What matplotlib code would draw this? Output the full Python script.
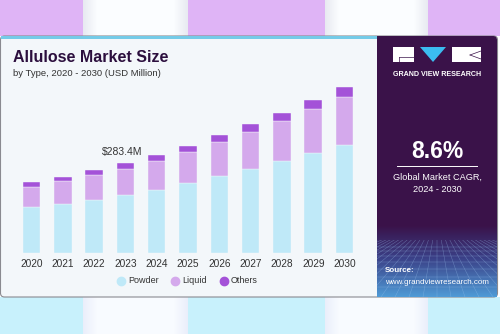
import numpy as np
import matplotlib
matplotlib.use("Agg")
import matplotlib.pyplot as plt
from matplotlib.patches import FancyBboxPatch, Rectangle, Polygon
from matplotlib.lines import Line2D

# ---- data ----
years = ["2020", "2021", "2022", "2023", "2024", "2025", "2026", "2027", "2028", "2029", "2030"]
powder = [144.9, 155.3, 167.8, 183.6, 200.3, 220.4, 241.9, 265.5, 290.7, 315.9, 342.0]
liquid = [64.9, 71.5, 77.8, 81.9, 90.4, 97.6, 108.6, 117.5, 126.9, 138.6, 151.2]
others = [14.8, 14.5, 15.7, 17.9, 18.9, 20.8, 21.1, 24.2, 25.2, 27.4, 29.6]
series_names = ["Powder", "Liquid", "Others"]
annot_label = "$283.4M"
annot_year = "2023"

C_POW = "#bfe9f8"
C_LIQ = "#d4a9ec"
C_OTH = "#a452d8"
DARK = "#2c0f3e"

W, H = 500, 334
fig = plt.figure(figsize=(W / 100, H / 100), dpi=100)
plt.rcParams['font.family'] = ['Liberation Sans', 'DejaVu Sans']

bg = fig.add_axes([0, 0, 1, 1])
bg.set_xlim(0, W)
bg.set_ylim(H, 0)
bg.axis("off")

def band(y0, y1, base, light, edge):
    img = np.zeros((1, W, 3))
    base = np.array(matplotlib.colors.to_rgb(base))
    light = np.array(matplotlib.colors.to_rgb(light))
    edge = np.array(matplotlib.colors.to_rgb(edge))
    for x in range(W):
        c = base
        for (a, b) in [(80, 190), (322, 430)]:
            if a <= x <= b:
                t = (x - a) / (b - a)
                d = min(t, 1 - t)
                if d > 0.02:
                    w = np.clip(d / 0.15, 0, 1)
                    c = light * w + edge * (1 - w)
        img[0, x] = c
    bg.imshow(img, extent=[0, W, y1, y0], aspect="auto", zorder=0)

band(0, 36, "#dfb4f6", "#fbfdff", "#e4e6ef")
band(297, H, "#c8f1fc", "#f8fbff", "#e8ecfa")

# card
card = FancyBboxPatch((0.5, 36), 497, 261, boxstyle="round,pad=0,rounding_size=4",
                      fc="#f3f7fa", ec="#8a8a90", lw=0.8, zorder=1)
bg.add_patch(card)
bg.add_patch(Rectangle((1, 36), 376, 3, fc="#74cbe8", ec="none", zorder=2))

# right panel
panel = FancyBboxPatch((377, 36), 120, 261, boxstyle="round,pad=0,rounding_size=4",
                       fc="#3a1249", ec="none", zorder=2)
bg.add_patch(panel)
bg.add_patch(Rectangle((377, 36), 8, 261, fc="#3a1249", ec="none", zorder=2))
gy0, gy1 = 225, 297
n = gy1 - gy0
grad = np.zeros((n, 120, 3))
top = np.array(matplotlib.colors.to_rgb("#3a1249"))
mid = np.array(matplotlib.colors.to_rgb("#3a3f86"))
bot = np.array(matplotlib.colors.to_rgb("#4f9ad6"))
for r in range(n):
    t = r / (n - 1)
    if t < 0.45:
        u = t / 0.45
        c = top * (1 - u) + mid * u
    else:
        u = (t - 0.45) / 0.55
        c = mid * (1 - u) + bot * u
    grad[r, :] = c
bg.imshow(grad, extent=[377, 497, gy1, gy0], aspect="auto", zorder=3)
clip = Rectangle((377, 240), 120, 57, transform=bg.transData)
vx, vy = 437, 215
for k in range(-14, 15):
    xb = 437 + k * 14
    ln, = bg.plot([vx, xb], [vy, 297], color="#9cc4ee", lw=0.35, alpha=0.45, zorder=3)
    ln.set_clip_path(clip)
for yy in [247, 251, 256, 262, 269, 277, 287]:
    bg.plot([377, 497], [yy, yy], color="#9cc4ee", lw=0.35, alpha=0.45, zorder=3)

# logo
bg.add_patch(Rectangle((393, 47), 21, 15, fc="white", ec="none", zorder=4))
bg.add_patch(Polygon([[420, 47], [446, 47], [433, 62]], closed=True, fc="#3bbcf0", ec="none", zorder=4))
bg.add_patch(Rectangle((452, 47), 29, 15, fc="white", ec="none", zorder=4))
bg.plot([399, 414], [57, 57], color="#3a1249", lw=0.5, zorder=5)
bg.plot([399, 399], [57, 62], color="#3a1249", lw=0.5, zorder=5)
bg.plot([470, 481], [55, 51], color="#3a1249", lw=0.5, zorder=5)
bg.plot([470, 481], [55, 59], color="#3a1249", lw=0.5, zorder=5)
bg.text(437.5, 74, "GRAND VIEW RESEARCH", color="white", fontsize=5.1, fontweight="bold",
        ha="center", va="center", zorder=5)

bg.text(437, 152, "8.6%", color="white", fontsize=16.5, fontweight="bold",
        ha="center", va="center", zorder=5)
bg.plot([397, 477], [166, 166], color="white", lw=0.7, zorder=5)
bg.text(437, 177, "Global Market CAGR,", color="white", fontsize=6.6, ha="center", va="center", zorder=5)
bg.text(437, 189, "2024 - 2030", color="white", fontsize=6.6, ha="center", va="center", zorder=5)
bg.text(385, 271, "Source:", color="white", fontsize=5.8, fontweight="bold", ha="left", va="center", zorder=5)
bg.text(385, 282, "www.grandviewresearch.com", color="white", fontsize=5.8, ha="left", va="center", zorder=5)

# titles
bg.text(13, 58, "Allulose Market Size", color=DARK, fontsize=11.5, fontweight="bold",
        ha="left", va="center", zorder=5)
bg.text(13, 73, "by Type, 2020 - 2030 (USD Million)", color="#333333", fontsize=6.8,
        ha="left", va="center", zorder=5)

# bar axes
x0_px, base_px = 12.7, 253.3
ax = fig.add_axes([x0_px / W, (H - base_px) / H, 350.6 / W, 190.5 / H])
ax.set_xlim(-0.6, 10.6)
ax.set_ylim(0, 600)
ax.patch.set_alpha(0)
for s in ax.spines.values():
    s.set_visible(False)
x = np.arange(len(years))
p = np.array(powder)
l = np.array(liquid)
o = np.array(others)
bw = 0.56
ax.bar(x, p, bw, color=C_POW, ec="#f3f7fa", lw=0.3)
ax.bar(x, l, bw, bottom=p, color=C_LIQ, ec="#f3f7fa", lw=0.3)
ax.bar(x, o, bw, bottom=p + l, color=C_OTH, ec="#f3f7fa", lw=0.3)
ax.set_xticks(x)
ax.set_xticklabels(years, fontsize=7.3, color="#333333")
ax.tick_params(axis="x", length=0, pad=4)
ax.set_yticks([])
i = years.index(annot_year)
ax.text(x[i] - 0.11, p[i] + l[i] + o[i] + 35, annot_label, ha="center", va="center",
        fontsize=7.5, color="#333333")

# legend (manual placement)
leg_x = [121, 175, 224]
for nm, c, lx in zip(series_names, (C_POW, C_LIQ, C_OTH), leg_x):
    bg.plot([lx], [280.5], marker="o", ms=6, color=c, ls="", zorder=5)
    bg.text(lx + 7, 280.5, nm, fontsize=6.5, color="#333333", ha="left", va="center", zorder=5)

fig.savefig("out.png", dpi=100)
